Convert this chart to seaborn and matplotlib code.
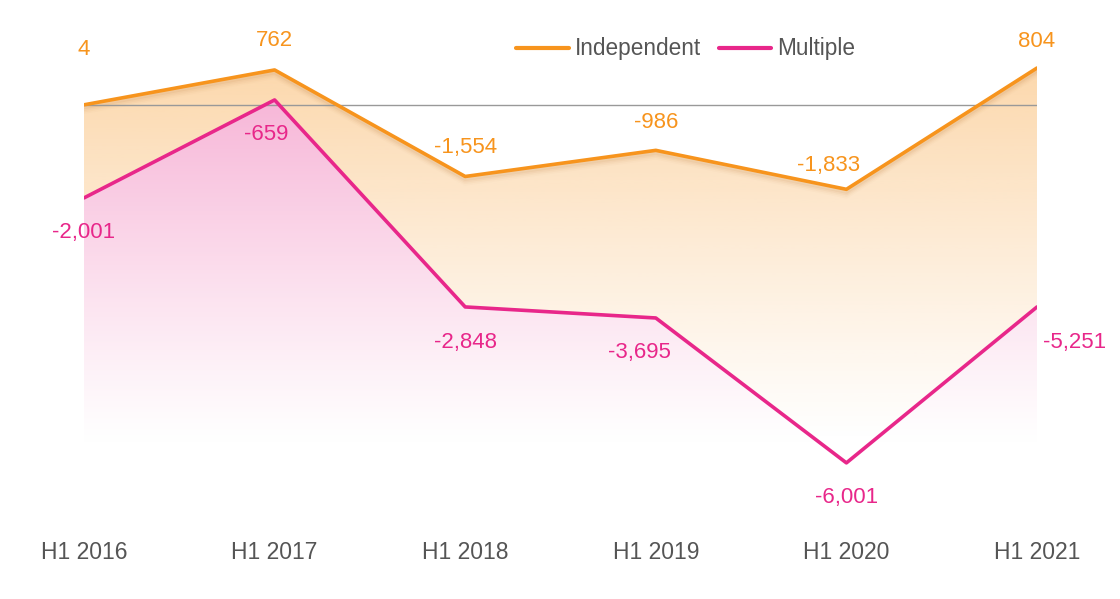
import numpy as np
import pandas as pd
import matplotlib
matplotlib.use("Agg")
import matplotlib.pyplot as plt
import matplotlib.colors as mcolors
import seaborn as sns

# ---- data ----
periods = ["H1 2016", "H1 2017", "H1 2018", "H1 2019", "H1 2020", "H1 2021"]
independent = [4, 762, -1554, -986, -1833, 804]
# the Multiple line as drawn in the picture (its positions do not follow its labels)
multiple_line = [-2020, 110, -4390, -4630, -7780, -4390]
multiple_labels = [-2001, -659, -2848, -3695, -6001, -5251]

ORANGE = "#F7941D"
PINK = "#E8278A"
GREY_TXT = "#555555"

sns.set_theme(style="white")
plt.rcParams["font.family"] = ["Liberation Sans", "DejaVu Sans"]

W, H, DPI = 1120, 599, 100
fig = plt.figure(figsize=(W / DPI, H / DPI), dpi=DPI)
top_px, bot_px = 20, 520
ax = fig.add_axes([84 / W, 1 - bot_px / H, 953 / W, (bot_px - top_px) / H])

scale = 0.046  # px per unit
zero_px = 105
ymax = (zero_px - top_px) / scale
ymin = -(bot_px - zero_px) / scale
fill_bottom = -(443 - zero_px) / scale

x = np.arange(len(periods))
df = pd.DataFrame({
    "x": np.concatenate([x, x]),
    "value": independent + multiple_line,
    "series": ["Independent"] * len(x) + ["Multiple"] * len(x),
})


def gradient_fill(ax, xs, ys, color, strength, top_v, zorder, opaque):
    poly = ax.fill_between(xs, ys, fill_bottom, facecolor="none", edgecolor="none")
    path = poly.get_paths()[0]
    n = 256
    a = np.linspace(strength, 0.0, n) ** 1.1
    img = np.zeros((n, 1, 4))
    rgb = np.array(mcolors.to_rgb(color))
    if opaque:
        img[:, 0, :3] = (1 - a)[:, None] * 1.0 + a[:, None] * rgb
        img[:, 0, 3] = 1.0
    else:
        img[:, 0, :3] = rgb
        img[:, 0, 3] = a
    im = ax.imshow(img, aspect="auto", extent=[xs[0], xs[-1], fill_bottom, top_v],
                   origin="upper", zorder=zorder, interpolation="bilinear")
    im.set_clip_path(path, transform=ax.transData)


gradient_fill(ax, x, np.array(independent, float), ORANGE, 0.40, max(independent), 1, False)
gradient_fill(ax, x, np.array(multiple_line, float), PINK, 0.37, max(multiple_line), 2, True)

# soft shadow under the orange line
for k, a in enumerate([0.10, 0.07, 0.05, 0.03]):
    off = -(k + 1) * 1.6 / scale
    ax.plot(x, np.array(independent) + off, color="#c8884a", alpha=a, lw=4, zorder=2.5,
            solid_joinstyle="round")

ax.axhline(0, color="#999999", lw=1, zorder=3)

sns.lineplot(data=df, x="x", y="value", hue="series", palette=[ORANGE, PINK],
             linewidth=2.6, ax=ax, zorder=4, legend=True)

ax.set_xlim(0, len(periods) - 1)
ax.set_ylim(ymin, ymax)
for s in ax.spines.values():
    s.set_visible(False)
ax.set_yticks([])
ax.set_xticks(x)
ax.set_xticklabels(periods, fontsize=16.5, color=GREY_TXT)
ax.tick_params(axis="x", length=0, pad=15)
ax.set_xlabel("")
ax.set_ylabel("")
ax.grid(False)

# data labels
ind_off = [(0, 55), (0, 29), (0, 29), (0, 28), (-18, 24), (0, 27)]
mul_off = [(0, -35), (-8, -35), (0, -36), (-16, -35), (0, -35), (38, -36)]
for i, v in enumerate(independent):
    dx, dy = ind_off[i]
    ax.annotate(f"{v:,}", (x[i], v), xytext=(dx, dy), textcoords="offset pixels",
                ha="center", va="center", fontsize=16, color=ORANGE, zorder=6,
                annotation_clip=False)
for i, v in enumerate(multiple_line):
    dx, dy = mul_off[i]
    ax.annotate(f"{multiple_labels[i]:,}", (x[i], v), xytext=(dx, dy),
                textcoords="offset pixels", ha="center", va="center", fontsize=16,
                color=PINK, zorder=6, annotation_clip=False)

handles, labels = ax.get_legend_handles_labels()
leg = ax.legend(handles, labels, loc="center", bbox_to_anchor=(686 / W, 1 - 49 / H),
                bbox_transform=fig.transFigure, ncol=2, frameon=False, fontsize=16.3,
                handlelength=2.3, handletextpad=0.28, columnspacing=0.8)
for t in leg.get_texts():
    t.set_color(GREY_TXT)
for lh in leg.get_lines():
    lh.set_linewidth(3)

fig.savefig("out.png", dpi=DPI, facecolor="white")
